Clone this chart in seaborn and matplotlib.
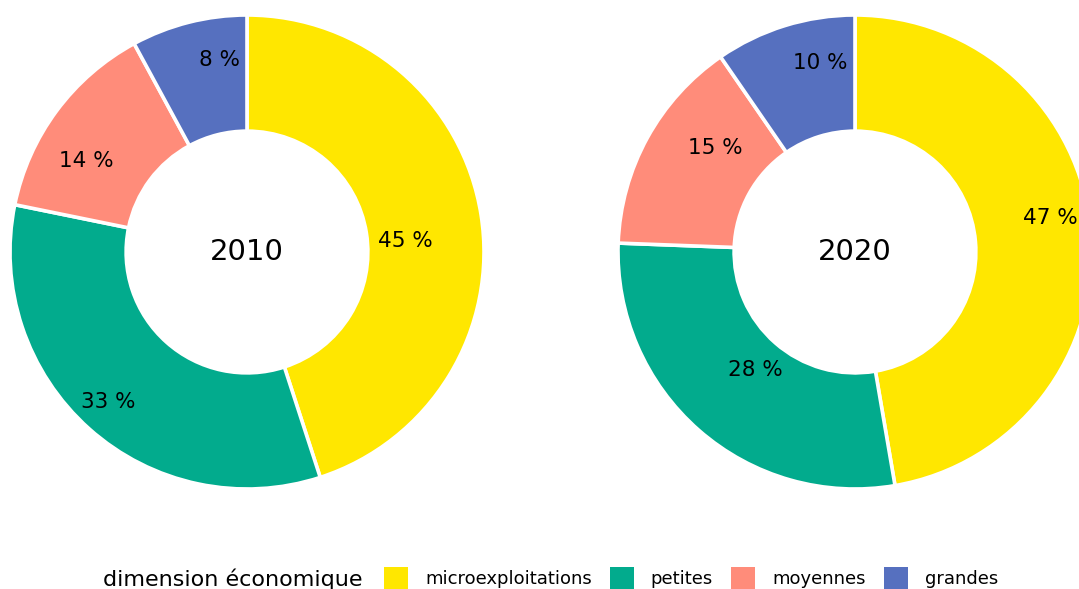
import numpy as np
import matplotlib
matplotlib.use("Agg")
import matplotlib.pyplot as plt
import matplotlib.patches as patches
import seaborn as sns

# share of farms by economic size
categories = ["microexploitations", "petites", "moyennes", "grandes"]
years = ["2010", "2020"]
shares2010 = [45.0, 33.2, 13.9, 7.9]
shares2020 = [47.3, 28.3, 14.8, 9.6]
colors = ["#FFE700", "#02AB8D", "#FF8C7A", "#5670BF"]

# label placement tweaks (radius as fraction, angle nudge in degrees), like a repel step
label_radius = {"2010": [0.67, 0.86, 0.78, 0.82], "2020": [0.835, 0.65, 0.735, 0.81]}
label_nudge = {"2010": [-5, -1, 7, -6], "2020": [5, 1, -8, -7]}

sns.set_theme(style="white")
plt.rcParams["font.family"] = ["DejaVu Sans"]
plt.rcParams["text.color"] = "black"

W, H = 1079, 589
fig = plt.figure(figsize=(W / 100, H / 100), dpi=100)

outer = 237
centers = [(247, 252), (855, 252)]

for (cx, cy), year, shares in zip(centers, years, [shares2010, shares2020]):
    ax = fig.add_axes([(cx - outer) / W, (H - cy - outer) / H, 2 * outer / W, 2 * outer / H])
    wedges, _ = ax.pie(
        shares,
        colors=colors,
        startangle=90,
        counterclock=False,
        radius=1,
        wedgeprops=dict(width=0.49, edgecolor="white", linewidth=2.6),
    )
    total = sum(shares)
    for i, (w, v) in enumerate(zip(wedges, shares)):
        ang = np.deg2rad((w.theta1 + w.theta2) / 2 + label_nudge[year][i])
        r = label_radius[year][i]
        ax.text(r * np.cos(ang), r * np.sin(ang), f"{round(100 * v / total)} %",
                ha="center", va="center", fontsize=15.5, color="black")
    ax.text(0, 0, year, ha="center", va="center", fontsize=21, color="black")
    ax.set_xlim(-1, 1)
    ax.set_ylim(-1, 1)
    ax.set_aspect("equal")
    ax.axis("off")

# legend along the bottom, title on the left
fig.text(103 / W, 1 - 579 / H, "dimension économique", fontsize=16, ha="left", va="center", color="black")
handles = [patches.Patch(facecolor=c, edgecolor="none") for c in colors]
fig.legend(
    handles, categories,
    loc="center left",
    bbox_to_anchor=(384 / W, 1 - 578 / H),
    ncol=4,
    frameon=False,
    fontsize=13,
    labelcolor="black",
    handlelength=1.33,
    handleheight=1.45,
    handletextpad=0.94,
    columnspacing=1.0,
    borderpad=0,
    borderaxespad=0,
)

fig.savefig("out.png", dpi=100)
